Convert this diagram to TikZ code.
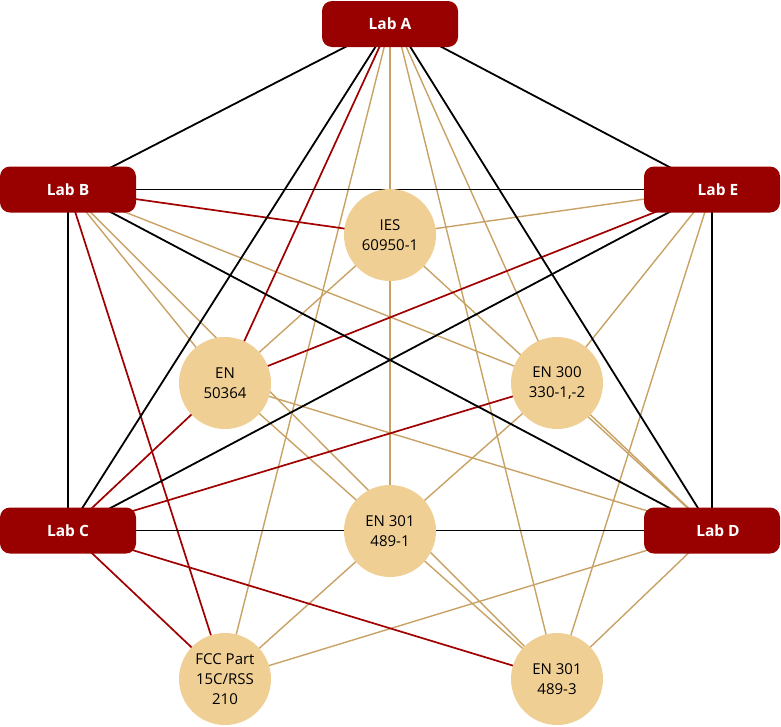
\documentclass[tikz,border=0pt]{standalone}
\usepackage{fontspec}
\setmainfont{Open Sans}
\usetikzlibrary{backgrounds}
\definecolor{labred}{RGB}{153,0,0}
\definecolor{linered}{RGB}{160,0,0}
\definecolor{tanline}{RGB}{200,162,100}
\definecolor{circfill}{RGB}{240,207,148}
\begin{document}
\begin{tikzpicture}[x=1pt,y=-1pt,
  lab/.style={fill=labred,rounded corners=10pt,minimum width=136pt,minimum height=46pt,
    inner sep=0pt,text=white,font=\fontsize{15.5}{18}\selectfont\bfseries},
  std/.style={circle,fill=circfill,minimum size=92pt,inner sep=0pt,align=center,
    text=black,font=\fontsize{15}{20}\selectfont},
  blk/.style={draw=black,line width=1.8pt},
  rd/.style={draw=linered,line width=1.7pt},
  tn/.style={draw=tanline,line width=1.4pt}]
\useasboundingbox (0,0) rectangle (781,726);
% labs
\node[lab] (A) at (390,24) {Lab A};
\node[lab] (B) at (68,189.5) {Lab B};
\node[lab] (E) at (712,189.5) {\hspace*{12pt}Lab E};
\node[lab] (C) at (68,530.5) {Lab C};
\node[lab] (D) at (712,530.5) {\hspace*{12pt}Lab D};
% standards
\node[std] (ies) at (390,235) {IES\\60950-1};
\node[std] (en5) at (225,383) {EN\\50364};
\node[std] (en3) at (557,383) {EN 300\\330-1,-2};
\node[std] (e41) at (390,531) {EN 301\\489-1};
\node[std] (fcc) at (225,679) {FCC Part\\15C/RSS\\210};
\node[std] (e43) at (557,679) {EN 301\\489-3};
\begin{scope}[on background layer]
  % tan
  \draw[tn] (A.center) -- (ies.center);
  \draw[tn] (ies.center) -- (e41.center);
  \draw[tn] (A.center) -- (fcc.center);
  \draw[tn] ([xshift=6pt]A.center) -- (en3.center);
  \draw[tn] ([xshift=6pt]A.center) -- (e43.center);
  \draw[tn] (B.center) -- (en5.center);
  \draw[tn] (B.center) -- (e43.center);
  \draw[tn] (B.center) -- (en3.center);
  \draw[tn] (E.center) -- (ies.center);
  \draw[tn] (E.center) -- (en3.center);
  \draw[tn] (E.center) -- (e43.center);
  \draw[tn] (ies.center) -- (en5.center);
  \draw[tn] (ies.center) -- (D.center);
  \draw[tn] (en5.center) -- (D.center);
  \draw[tn] (en5.center) -- (e43.center);
  \draw[tn] (en3.center) -- (e41.center);
  \draw[tn] (en3.center) -- (D.center);
  \draw[tn] (e41.center) -- (fcc.center);
  \draw[tn] (fcc.center) -- (D.center);
  \draw[tn] (e43.center) -- (D.center);
  % red
  \draw[rd] (A.center) -- (en5.center);
  \draw[rd] (B.center) -- (ies.center);
  \draw[rd] (B.center) -- (fcc.center);
  \draw[rd] (E.center) -- (en5.center);
  \draw[rd] (C.center) -- (en5.center);
  \draw[rd] (C.center) -- (en3.center);
  \draw[rd] (C.center) -- (fcc.center);
  \draw[rd] (C.center) -- (e43.center);
  % black
  \draw[blk] (A.center) -- (B.center);
  \draw[blk] ([xshift=8pt]A.center) -- (E.center);
  \draw[blk] (A.center) -- (C.center);
  \draw[blk] ([xshift=6pt]A.center) -- (D.center);
  \draw[blk] (B.center) -- (E.center);
  \draw[blk] (B.center) -- (C.center);
  \draw[blk] (E.center) -- (D.center);
  \draw[blk] (B.center) -- (D.center);
  \draw[blk] (E.center) -- (C.center);
  \draw[blk] (C.center) -- (D.center);
\end{scope}
\end{tikzpicture}
\end{document}
